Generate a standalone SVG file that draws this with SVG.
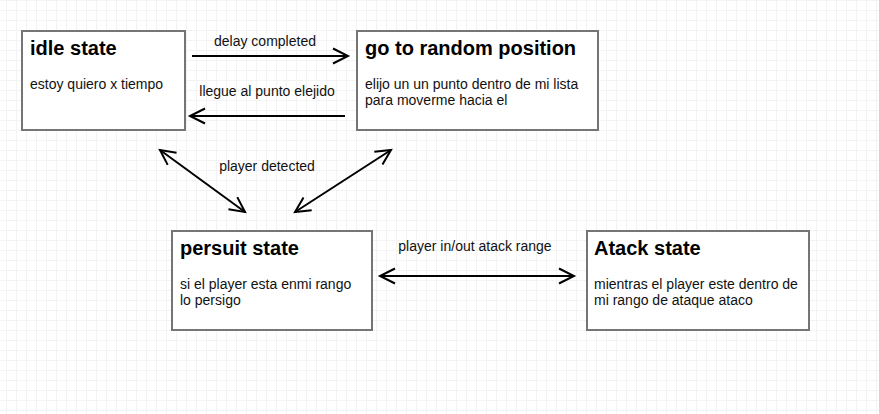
<svg xmlns="http://www.w3.org/2000/svg" width="879" height="414" viewBox="0 0 879 414">
<defs>
<pattern id="grid" x="6" y="0" width="10" height="10" patternUnits="userSpaceOnUse">
<path d="M0.5 0 V10 M0 0.5 H10" fill="none" stroke="#f3f3f3" stroke-width="1"/>
</pattern>
<marker id="arr" viewBox="0 0 20 20" refX="16" refY="10" markerWidth="20" markerHeight="20" markerUnits="userSpaceOnUse" orient="auto-start-reverse">
<path d="M1 2.5 L16 10 L1 17.5" fill="none" stroke="#000" stroke-width="2"/>
</marker>
<style>
.box{fill:#fff;stroke:#757575;stroke-width:2}
.title{font-family:"Liberation Sans",Arial,sans-serif;font-weight:bold;font-size:20px;fill:#000}
.body{font-family:"Liberation Sans",Arial,sans-serif;font-size:14px;fill:#111}
.lbl{font-family:"Liberation Sans",Arial,sans-serif;font-size:14px;fill:#111;text-anchor:middle}
.edge{stroke:#000;stroke-width:2;fill:none}
</style>
</defs>
<rect width="879" height="414" fill="#fff"/>
<rect width="879" height="414" fill="url(#grid)"/>
<g id="idle">
<rect class="box" x="22" y="31" width="163" height="99"/>
<text class="title" x="30" y="55">idle state</text>
<text class="body" x="30" y="89">estoy quiero x tiempo</text>
</g>
<g id="random">
<rect class="box" x="357" y="31" width="241" height="99"/>
<text class="title" x="365" y="55">go to random position</text>
<text class="body" x="365" y="89">elijo un un punto dentro de mi lista</text>
<text class="body" x="365" y="105">para moverme hacia el</text>
</g>
<g id="persuit">
<rect class="box" x="172" y="231" width="200" height="99"/>
<text class="title" x="180" y="255">persuit state</text>
<text class="body" x="180" y="289">si el player esta enmi rango</text>
<text class="body" x="180" y="305">lo persigo</text>
</g>
<g id="atack">
<rect class="box" x="587" y="231" width="222" height="99"/>
<text class="title" x="594" y="255">Atack state</text>
<text class="body" x="594" y="289">mientras el player este dentro de</text>
<text class="body" x="594" y="305">mi rango de ataque ataco</text>
</g>
<g id="connectors">
<line class="edge" x1="192" y1="56" x2="348" y2="56" marker-end="url(#arr)"/>
<text class="lbl" x="265" y="46">delay completed</text>
<line class="edge" x1="345" y1="116" x2="190" y2="116" marker-end="url(#arr)"/>
<text class="lbl" x="267" y="96">llegue al punto elejido</text>
<line class="edge" x1="160" y1="150" x2="245" y2="212" marker-start="url(#arr)" marker-end="url(#arr)"/>
<line class="edge" x1="391" y1="150" x2="295" y2="212" marker-start="url(#arr)" marker-end="url(#arr)"/>
<text class="lbl" x="267" y="171">player detected</text>
<line class="edge" x1="380" y1="276" x2="574" y2="276" marker-start="url(#arr)" marker-end="url(#arr)"/>
<text class="lbl" x="475" y="251">player in/out atack range</text>
</g>
</svg>
